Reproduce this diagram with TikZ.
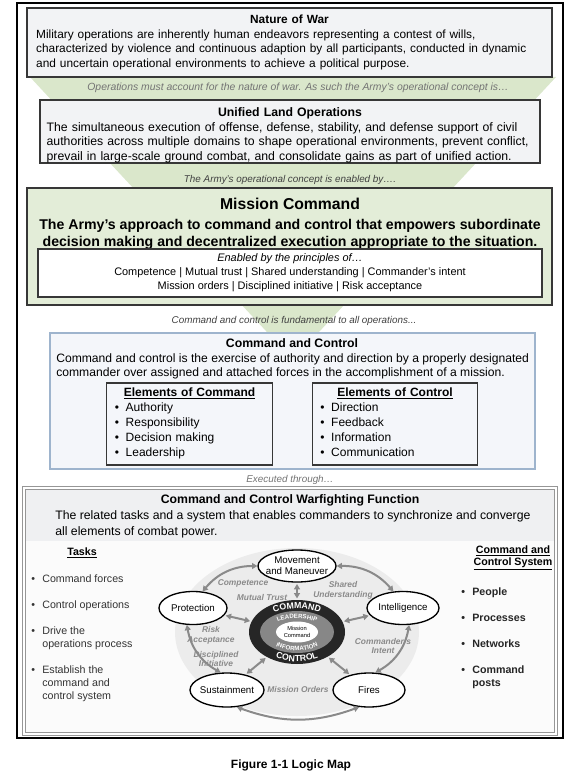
\documentclass[tikz,border=0pt]{standalone}
\usepackage{fontspec}
\setmainfont{Liberation Sans}
\usetikzlibrary{arrows.meta,shapes.geometric,decorations.text}
\definecolor{edgegray}{RGB}{55,55,55}
\definecolor{levelgray}{RGB}{242,243,245}
\definecolor{funnelgreen}{RGB}{218,231,203}
\definecolor{ctwofill}{RGB}{244,246,250}
\definecolor{ctwoedge}{RGB}{158,180,205}
\definecolor{wffedge}{RGB}{150,150,150}
\definecolor{wffhead}{RGB}{239,240,242}
\definecolor{wffbody}{RGB}{251,251,251}
\definecolor{wheelgray}{RGB}{236,236,236}
\definecolor{linkgray}{RGB}{138,138,138}
\definecolor{ringgray}{RGB}{135,135,135}
\newcommand{\fsz}[2]{\fontsize{#1}{#2}\selectfont}
\newcommand{\bul}{\textbullet}
\hyphenpenalty=10000

\begin{document}
\begin{tikzpicture}[
  x=0.75pt, y=-0.75pt,
  level/.style={
    draw=edgegray,
    line width=1.1pt,
    fill=levelgray,
    inner sep=0pt,
    align=center,
    font=\fsz{9.2}{10.9}
  },
  bridge/.style={font=\fsz{7.4}{9}\itshape, text=black!75, inner sep=0pt},
  heading/.style={font=\fsz{9.2}{11}\bfseries, inner sep=0pt},
  elembox/.style={
    draw=edgegray,
    line width=0.9pt,
    fill=ctwofill,
    minimum width=124pt,
    minimum height=61.5pt,
    text width=112pt,
    inner sep=0pt,
    align=center,
    font=\fsz{9}{11.25}
  },
  wfn/.style={ellipse, draw=black, line width=1pt, fill=white, inner xsep=-4pt, inner ysep=0pt, align=center, font=\fsz{7.3}{8.5}},
  link/.style={{Triangle[length=4pt,width=4.5pt]}-{Triangle[length=4pt,width=4.5pt]}, draw=linkgray, line width=1.5pt},
  trait/.style={font=\fsz{6.3}{7.3}\bfseries\itshape, text=linkgray, align=center, inner sep=0pt},
  ringtext/.style={decorate, decoration={text along path, text align=center, text={#1}}},
  bullets/.style={anchor=base west, inner sep=0pt}
]
\useasboundingbox (0,0) rectangle (580,784);
\draw[line width=1.8pt] (17,3) rectangle (563,738);

% funnel behind the top levels
\fill[funnelgreen] (30,77) -- (556,77) -- (315,336.3) arc[start angle=42.7, end angle=137.3, radius=30] -- cycle;

\node[level, font=\fsz{8.9}{10.9}, minimum width=393.75pt, minimum height=51.75pt, text width=380pt] (nature) at (289.5,42.5)
  {\textbf{Nature of War}\\\parbox[t]{380pt}{Military operations are inherently human endeavors representing a contest of wills,\linebreak
   characterized by violence and continuous adaption by all participants, conducted in dynamic\linebreak
   and uncertain operational environments to achieve a political purpose.}};
\node[bridge, font=\fsz{7.8}{9}\itshape, text=black!55] (account) at (298,88)
  {Operations must account for the nature of war. As such the Army’s operational concept is…};
\node[level, minimum width=375pt, minimum height=47.25pt, text width=365pt] (ulo) at (290,131.5)
  {\rule{0pt}{12.5pt}\textbf{Unified Land Operations}\\\parbox[t]{365pt}{The simultaneous execution of offense, defense, stability, and defense support of civil\linebreak
   authorities across multiple domains to shape operational environments, prevent conflict,\linebreak
   prevail in large-scale ground combat, and consolidate gains as part of unified action.}};
\node[bridge] (enabled) at (290,180) {The Army’s operational concept is enabled by….};

% mission command
\node[draw=edgegray, line width=1.1pt, fill=funnelgreen!75!white, minimum width=393.75pt, minimum height=87.75pt] (mc) at (289.5,246.5) {};
\node[font=\fsz{11.8}{14}\bfseries, inner sep=0pt] (mctitle) at (290,204) {Mission Command};
\node[font=\fsz{10.6}{12.75}\bfseries, align=center, inner sep=0pt] (mcdef) at (290,234.5)
  {The Army’s approach to command and control that empowers subordinate\\
   decision making and decentralized execution appropriate to the situation.};
\node[draw=edgegray, line width=0.8pt, fill=white, minimum width=378pt, minimum height=36pt, inner sep=0pt, align=center, font=\fsz{8.2}{10.5}] (principles) at (290,273)
  {\textit{Enabled by the principles of…}\\
   Competence | Mutual trust | Shared understanding | Commander’s intent\\
   Mission orders | Disciplined initiative | Risk acceptance};
\node[bridge] (fundamental) at (294,321) {Command and control is fundamental to all operations...};

% command and control
\node[draw=ctwoedge, line width=1pt, fill=ctwofill, minimum width=363.75pt, minimum height=102pt] (ctwo) at (292.5,401) {};
\node[heading] (ctwotitle) at (292,343) {Command and Control};
\node[font=\fsz{9.1}{11}, align=left, anchor=west, inner sep=0pt] (ctwodef) at (56,366.5)
  {Command and control is the exercise of authority and direction by a properly designated\\
   commander over assigned and attached forces in the accomplishment of a mission.};
\node[elembox] (cmdel) at (189.5,424)
  {\underline{\textbf{Elements of Command}}\\
   \makebox[112pt][l]{\begin{tabular}[t]{@{}l@{\hspace{5pt}}l@{}}
   \bul & Authority\\ \bul & Responsibility\\ \bul & Decision making\\ \bul & Leadership
   \end{tabular}}};
\node[elembox] (ctlel) at (395,424)
  {\underline{\textbf{Elements of Control}}\\
   \makebox[112pt][l]{\begin{tabular}[t]{@{}l@{\hspace{5pt}}l@{}}
   \bul & Direction\\ \bul & Feedback\\ \bul & Information\\ \bul & Communication
   \end{tabular}}};
\node[bridge, text=black!55] (executed) at (290,480) {Executed through…};

% warfighting function
\node[draw=wffedge, line width=0.6pt, double=white, double distance=1.2pt, fill=wffbody, minimum width=399pt, minimum height=184.5pt] (wff) at (290,611) {};
\fill[wffhead] ([shift={(2,2)}]wff.north west) rectangle (554,541);
\node[heading] (wfftitle) at (290,500) {Command and Control Warfighting Function};
\node[font=\fsz{9.2}{12}, align=left, anchor=west, inner sep=0pt] (wffdef) at (55,524)
  {The related tasks and a system that enables commanders to synchronize and converge\\
   all elements of combat power.};

\node[font=\fsz{8}{9.75}\bfseries, inner sep=0pt] (taskhead) at (82,553) {\underline{Tasks}};
\node[bullets, font=\fsz{8}{9.75}, text=black!80] (tasks) at (31,582)
  {\begin{tabular}[t]{@{}l@{\hspace{5.5pt}}l@{}}
   \bul & Command forces\\[9.75pt]
   \bul & Control operations\\[9.75pt]
   \bul & Drive the\\
        & operations process\\[9.75pt]
   \bul & Establish the\\
        & command and\\
        & control system
   \end{tabular}};
\node[font=\fsz{8}{9}\bfseries, align=center, inner sep=0pt] (syshead) at (513,558)
  {\underline{Command and}\\\underline{Control System}};
\node[bullets, font=\fsz{8}{9.75}\bfseries, text=black!85] (system) at (461,595)
  {\begin{tabular}[t]{@{}l@{\hspace{5.5pt}}l@{}}
   \bul & People\\[9.75pt]
   \bul & Processes\\[9.75pt]
   \bul & Networks\\[9.75pt]
   \bul & Command\\
        & posts
   \end{tabular}};

% wheel
\fill[wheelgray] (297,632) ellipse [x radius=122, y radius=84];
\node[wfn, minimum width=58.5pt, minimum height=24pt] (mm) at (297,566) {Movement\\and Maneuver};
\node[wfn, minimum width=51pt, minimum height=24.75pt] (prot) at (193,608) {Protection};
\node[wfn, minimum width=54pt, minimum height=24.75pt] (intel) at (403,608) {Intelligence};
\node[wfn, minimum width=55.5pt, minimum height=25.5pt] (sust) at (227,690) {Sustainment};
\node[wfn, minimum width=54pt, minimum height=25.5pt] (fires) at (369,690) {Fires};

\node[ellipse, fill=black!85, minimum width=72pt, minimum height=48pt, inner sep=0pt] (core) at (297,632) {};
\node[ellipse, fill=ringgray, minimum width=55.5pt, minimum height=31.5pt, inner sep=0pt] (ring) at (core.center) {};
\node[ellipse, fill=white, minimum width=31.5pt, minimum height=15.75pt, inner sep=0pt, align=center, font=\fsz{4.3}{5}] (mcore) at (core.center) {Mission\\Command};
\path[ringtext={|\fsz{6.6}{7}\bfseries\color{white}|COMMAND}]
  (core.center) ++(225:41 and 23.5) arc[start angle=225, end angle=315, x radius=41, y radius=23.5];
\path[ringtext={|\fsz{6.6}{7}\bfseries\color{white}|CONTROL}]
  (core.center) ++(135:44 and 29.5) arc[start angle=135, end angle=45, x radius=44, y radius=29.5];
\path[ringtext={|\fsz{4.6}{5}\bfseries\color{white}|LEADERSHIP}]
  (core.center) ++(205:29 and 13.5) arc[start angle=205, end angle=335, x radius=29, y radius=13.5];
\path[ringtext={|\fsz{4.6}{5}\bfseries\color{white}|INFORMATION}]
  (core.center) ++(150:33 and 18.5) arc[start angle=150, end angle=30, x radius=33, y radius=18.5];

\draw[link] (prot.60) to[bend left=25] (mm.west);
\draw[link] (mm.east) to[bend left=25] (intel.120);
\draw[link] (intel.-70) to[bend left=25] (fires.70);
\draw[link] (fires.-120) to[bend left=20] (sust.-60);
\draw[link] (sust.110) to[bend left=25] (prot.-110);
\draw[link, shorten <=1pt, shorten >=1pt] (mm) -- (core);
\draw[link, shorten <=1pt, shorten >=1pt] (prot) -- (core);
\draw[link, shorten <=1pt, shorten >=1pt] (intel) -- (core);
\draw[link, shorten <=1pt, shorten >=1pt] (sust) -- (core);
\draw[link, shorten <=1pt, shorten >=1pt] (fires) -- (core);

\node[trait] (competence) at (243,583) {Competence};
\node[trait] (trust) at (262,597) {Mutual Trust};
\node[trait] (shared) at (343,590) {Shared\\Understanding};
\node[trait] (risk) at (211,635) {Risk\\Acceptance};
\node[trait] (initiative) at (216,659) {Disciplined\\Initiative};
\node[trait] (intent) at (383,646) {Commander’s\\Intent};
\node[trait] (orders) at (298,689) {Mission Orders};

\node[font=\fsz{9}{11}\bfseries, inner sep=0pt] (caption) at (291,765) {Figure 1-1 Logic Map};
\end{tikzpicture}
\end{document}
